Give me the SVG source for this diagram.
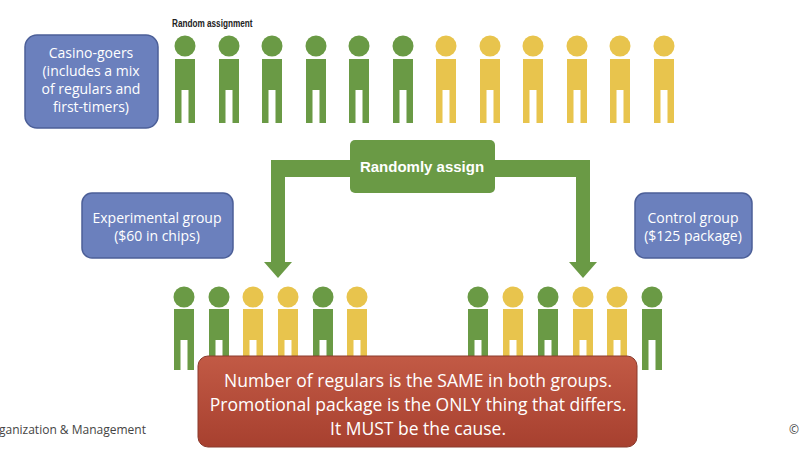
<svg xmlns="http://www.w3.org/2000/svg" xmlns:xlink="http://www.w3.org/1999/xlink" width="800" height="453" viewBox="0 0 800 453">
<style>
.bt{font-family:"Open Sans","Liberation Sans",sans-serif;font-size:14px;fill:#fff;text-anchor:middle}
.bx{fill:#6b80bd;stroke:#4c5f98;stroke-width:1.5}
.g{fill:#6a9a45}.y{fill:#e8c44d}
</style>
<defs>
<g id="pt"><circle cx="0" cy="0" r="10.5"/><path d="M-10 13H10V77H3.5V44H-3.5V77H-10Z"/></g>
<g id="pb"><circle cx="0" cy="0" r="10.5"/><path d="M-10 12H10V73H3.5V43H-3.5V73H-10Z"/></g>
<linearGradient id="rg" x1="0" y1="0" x2="0" y2="1"><stop offset="0" stop-color="#c25a45"/><stop offset="1" stop-color="#a7402f"/></linearGradient>
</defs>
<rect width="800" height="453" fill="#fff"/>
<text x="172" y="27" font-family="Liberation Sans Narrow,Liberation Sans,sans-serif" font-size="10" font-weight="bold" fill="#222" transform="translate(172 0) scale(0.82 1) translate(-172 0)">Random assignment</text>
<g id="top-people">
<use href="#pt" x="185" y="46" class="g"/><use href="#pt" x="229" y="46" class="g"/><use href="#pt" x="272" y="46" class="g"/><use href="#pt" x="316" y="46" class="g"/><use href="#pt" x="359" y="46" class="g"/><use href="#pt" x="403" y="46" class="g"/>
<use href="#pt" x="446" y="46" class="y"/><use href="#pt" x="490" y="46" class="y"/><use href="#pt" x="533" y="46" class="y"/><use href="#pt" x="577" y="46" class="y"/><use href="#pt" x="620" y="46" class="y"/><use href="#pt" x="664" y="46" class="y"/>
</g>
<g id="connectors" fill="#6a9a45">
<path d="M271 160H590V262H597L583 278L569 262H576V177H285V262H292L278 278L264 262H271Z"/>
</g>
<g id="randomly-assign">
<rect x="350" y="140" width="145" height="53" rx="5" fill="#6a9a45"/>
<text x="422" y="172" font-family="Liberation Sans,sans-serif" font-size="15" font-weight="bold" fill="#fff" text-anchor="middle">Randomly assign</text>
</g>
<g id="bottom-people">
<use href="#pb" x="184" y="297" class="g"/><use href="#pb" x="219" y="297" class="g"/><use href="#pb" x="253" y="297" class="y"/><use href="#pb" x="288" y="297" class="y"/><use href="#pb" x="323" y="297" class="g"/><use href="#pb" x="357" y="297" class="y"/>
<use href="#pb" x="478" y="297" class="g"/><use href="#pb" x="513" y="297" class="y"/><use href="#pb" x="548" y="297" class="g"/><use href="#pb" x="583" y="297" class="y"/><use href="#pb" x="617" y="297" class="y"/><use href="#pb" x="652" y="297" class="g"/>
</g>
<g id="casino-goers">
<rect class="bx" x="25" y="35" width="133" height="93" rx="12"/>
<text class="bt" x="91" y="58">Casino-goers</text>
<text class="bt" x="91" y="76">(includes a mix</text>
<text class="bt" x="91" y="94">of regulars and</text>
<text class="bt" x="91" y="112">first-timers)</text>
</g>
<g id="experimental">
<rect class="bx" x="82" y="193" width="151" height="65" rx="10"/>
<text class="bt" x="157" y="223">Experimental group</text>
<text class="bt" x="157" y="241">($60 in chips)</text>
</g>
<g id="control">
<rect class="bx" x="635" y="193" width="117" height="65" rx="10"/>
<text class="bt" x="693" y="223">Control group</text>
<text class="bt" x="693" y="241">($125 package)</text>
</g>
<g id="conclusion">
<rect x="198" y="356" width="439" height="91" rx="10" fill="url(#rg)" stroke="#8a3a2c" stroke-width="1"/>
<g font-family="Open Sans,Liberation Sans,sans-serif" font-size="17.5" fill="#fff" text-anchor="middle">
<text x="418" y="387">Number of regulars is the SAME in both groups.</text>
<text x="418" y="411">Promotional package is the ONLY thing that differs.</text>
<text x="418" y="435">It MUST be the cause.</text>
</g>
</g>
<text x="-1" y="434" font-family="Open Sans,Liberation Sans,sans-serif" font-size="12" fill="#444">ganization &amp; Management</text>
<text x="789" y="434" font-family="Open Sans,Liberation Sans,sans-serif" font-size="12" fill="#444">©</text>
</svg>
